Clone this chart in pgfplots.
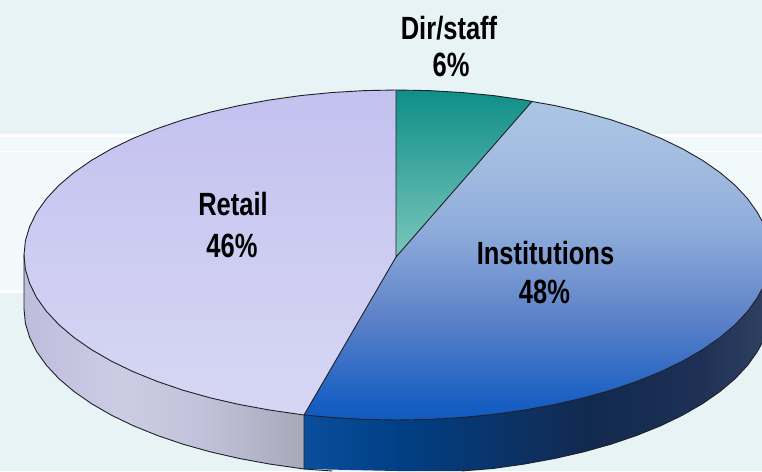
\documentclass[border=0pt]{standalone}
\usepackage{graphicx}
\usepackage{pgfplots}
\pgfplotsset{compat=1.18}
\usepackage{fontspec}
\setmainfont{Liberation Sans}
\definecolor{bgc}{HTML}{E7F3F5}
\definecolor{bandc}{HTML}{F2F9FB}
\definecolor{edge}{HTML}{202028}
\definecolor{ta}{HTML}{C3C1EF}
\definecolor{tb}{HTML}{D7D7F4}
\definecolor{da}{HTML}{0E8F88}
\definecolor{db}{HTML}{7CC6BC}
\pgfdeclareverticalshading{instshade}{100bp}{
rgb(0bp)=(0.059,0.353,0.753);
rgb(25bp)=(0.059,0.353,0.753);
rgb(28.1bp)=(0.102,0.376,0.765);
rgb(41.5bp)=(0.373,0.514,0.788);
rgb(54.9bp)=(0.557,0.675,0.859);
rgb(64.3bp)=(0.627,0.733,0.875);
rgb(75bp)=(0.671,0.776,0.894);
rgb(100bp)=(0.671,0.776,0.894)}
\pgfdeclarehorizontalshading{instwall}{100bp}{
rgb(0bp)=(0.039,0.306,0.612);
rgb(25bp)=(0.039,0.306,0.612);
rgb(35.5bp)=(0.004,0.247,0.522);
rgb(56.2bp)=(0.071,0.161,0.310);
rgb(68.2bp)=(0.118,0.188,0.333);
rgb(75bp)=(0.180,0.251,0.376);
rgb(100bp)=(0.180,0.251,0.376)}
\pgfdeclarehorizontalshading{retailwall}{100bp}{
rgb(0bp)=(0.737,0.737,0.863);
rgb(25bp)=(0.737,0.737,0.863);
rgb(27.9bp)=(0.753,0.753,0.871);
rgb(42.1bp)=(0.800,0.800,0.894);
rgb(56.4bp)=(0.761,0.761,0.863);
rgb(74.3bp)=(0.663,0.663,0.733);
rgb(100bp)=(0.663,0.663,0.733)}
\newcommand{\lab}[2]{\scalebox{1}[#1]{\fontsize{25.5}{30}\selectfont\bfseries #2}}
\begin{document}
\begin{tikzpicture}
\begin{axis}[scale only axis,width=762pt,height=471pt,xmin=0,xmax=762,ymin=0,ymax=471,y dir=reverse,hide axis,clip=true]
% background
\addplot[fill=bgc,draw=none] coordinates {(0,0)(762,0)(762,471)(0,471)} --cycle;
\addplot[fill=white,draw=none] coordinates {(0,134)(762,134)(762,293)(0,293)} --cycle;
\addplot[fill=bandc,draw=none] coordinates {(0,137)(762,137)(762,290)(0,290)} --cycle;
\addplot[draw=white,line width=0.8pt] coordinates {(0,151)(762,151)};
% walls
\addplot[draw=none,shade,shading=instwall] coordinates {
(304,415)(332.2,417.5)(364.5,419.4)(397,420)(429.5,419.4)(461.8,417.5)(493.5,414.4)(524.6,410)(554.6,404.5)(583.5,397.9)(611,390.2)(636.8,381.4)(660.8,371.7)(682.7,361.1)(702.6,349.6)(720,337.5)(735.1,324.7)(747.5,311.4)(757.3,297.7)(762,289)
(762,343)(757.3,351.7)(747.5,365.4)(735.1,378.7)(720,391.5)(702.6,403.6)(682.7,415.1)(660.8,425.7)(636.8,435.4)(611,444.2)(583.5,451.9)(554.6,458.5)(524.6,464)(493.5,468.4)(461.8,471)(397,471)(304,469)} --cycle;
\addplot[draw=none,shade,shading=retailwall] coordinates {
(24,255)(25.4,269.4)(29.7,283.6)(36.7,297.7)(46.5,311.4)(58.9,324.7)(74,337.5)(91.4,349.6)(111.3,361.1)(133.2,371.7)(157.2,381.4)(183,390.2)(210.5,397.9)(239.4,404.5)(269.4,410)(304,415)
(304,469)(269.4,464)(239.4,458.5)(210.5,451.9)(183,444.2)(157.2,435.4)(133.2,425.7)(111.3,415.1)(91.4,403.6)(74,391.5)(58.9,378.7)(46.5,365.4)(36.7,351.7)(29.7,337.6)(25.4,323.4)(24,309)} --cycle;
% top slices
\addplot[draw=none,top color=ta,bottom color=tb] coordinates {
(396,90)(364.5,90.6)(332.2,92.5)(300.5,95.6)(269.4,100)(239.4,105.5)(210.5,112.1)(183,119.8)(157.2,128.6)(133.2,138.3)(111.3,148.9)(91.4,160.4)(74,172.5)(58.9,185.3)(46.5,198.6)(36.7,212.3)(29.7,226.4)(25.4,240.6)(24,255)(25.4,269.4)(29.7,283.6)(36.7,297.7)(46.5,311.4)(58.9,324.7)(74,337.5)(91.4,349.6)(111.3,361.1)(133.2,371.7)(157.2,381.4)(183,390.2)(210.5,397.9)(239.4,404.5)(269.4,410)(304,415)(396,257)} --cycle;
\addplot[draw=none,shade,shading=instshade] coordinates {
(396,257)(532,101.5)(554.6,105.5)(583.5,112.1)(611,119.8)(636.8,128.6)(660.8,138.3)(682.7,148.9)(702.6,160.4)(720,172.5)(735.1,185.3)(747.5,198.6)(757.3,212.3)(762,221)(762,289)(757.3,297.7)(747.5,311.4)(735.1,324.7)(720,337.5)(702.6,349.6)(682.7,361.1)(660.8,371.7)(636.8,381.4)(611,390.2)(583.5,397.9)(554.6,404.5)(524.6,410)(493.5,414.4)(461.8,417.5)(429.5,419.4)(397,420)(364.5,419.4)(332.2,417.5)(304,415)} --cycle;
\addplot[draw=none,top color=da,bottom color=db] coordinates {
(396,257)(396,90)(429.5,90.6)(461.8,92.5)(493.5,95.6)(524.6,100)(532,101.5)} --cycle;
% outlines
\addplot[draw=edge,line width=0.9pt] coordinates {
(396,90)(364.5,90.6)(332.2,92.5)(300.5,95.6)(269.4,100)(239.4,105.5)(210.5,112.1)(183,119.8)(157.2,128.6)(133.2,138.3)(111.3,148.9)(91.4,160.4)(74,172.5)(58.9,185.3)(46.5,198.6)(36.7,212.3)(29.7,226.4)(25.4,240.6)(24,255)(25.4,269.4)(29.7,283.6)(36.7,297.7)(46.5,311.4)(58.9,324.7)(74,337.5)(91.4,349.6)(111.3,361.1)(133.2,371.7)(157.2,381.4)(183,390.2)(210.5,397.9)(239.4,404.5)(269.4,410)(304,415)(332.2,417.5)(364.5,419.4)(397,420)(429.5,419.4)(461.8,417.5)(493.5,414.4)(524.6,410)(554.6,404.5)(583.5,397.9)(611,390.2)(636.8,381.4)(660.8,371.7)(682.7,361.1)(702.6,349.6)(720,337.5)(735.1,324.7)(747.5,311.4)(757.3,297.7)(762,289)};
\addplot[draw=edge,line width=0.9pt] coordinates {
(396,90)(429.5,90.6)(461.8,92.5)(493.5,95.6)(524.6,100)(532,101.5)(554.6,105.5)(583.5,112.1)(611,119.8)(636.8,128.6)(660.8,138.3)(682.7,148.9)(702.6,160.4)(720,172.5)(735.1,185.3)(747.5,198.6)(757.3,212.3)(762,221)};
\addplot[draw=edge,line width=0.9pt] coordinates {(396,90)(396,257)(532,101.5)};
\addplot[draw=edge,line width=0.9pt] coordinates {(396,257)(304,415)(304,469)};
\addplot[draw=edge,line width=0.9pt] coordinates {
(24,255)(24,309)(25.4,323.4)(29.7,337.6)(36.7,351.7)(46.5,365.4)(58.9,378.7)(74,391.5)(91.4,403.6)(111.3,415.1)(133.2,425.7)(157.2,435.4)(183,444.2)(210.5,451.9)(239.4,458.5)(269.4,464)(304,469)(332.2,471)};
\addplot[draw=edge,line width=0.9pt] coordinates {
(461.8,471)(493.5,468.4)(524.6,464)(554.6,458.5)(583.5,451.9)(611,444.2)(636.8,435.4)(660.8,425.7)(682.7,415.1)(702.6,403.6)(720,391.5)(735.1,378.7)(747.5,365.4)(757.3,351.7)(762,343)};
% labels
\node[inner sep=0pt] at (axis cs:449,28) {\lab{1.26}{Dir/staff}};
\node[inner sep=0pt] at (axis cs:451,65) {\lab{1.32}{6\%}};
\node[inner sep=0pt] at (axis cs:233,204) {\lab{1.26}{Retail}};
\node[inner sep=0pt] at (axis cs:232,246) {\lab{1.32}{46\%}};
\node[inner sep=0pt] at (axis cs:545.5,253) {\lab{1.26}{Institutions}};
\node[inner sep=0pt] at (axis cs:544.5,292) {\lab{1.32}{48\%}};
\end{axis}
\end{tikzpicture}
\end{document}
